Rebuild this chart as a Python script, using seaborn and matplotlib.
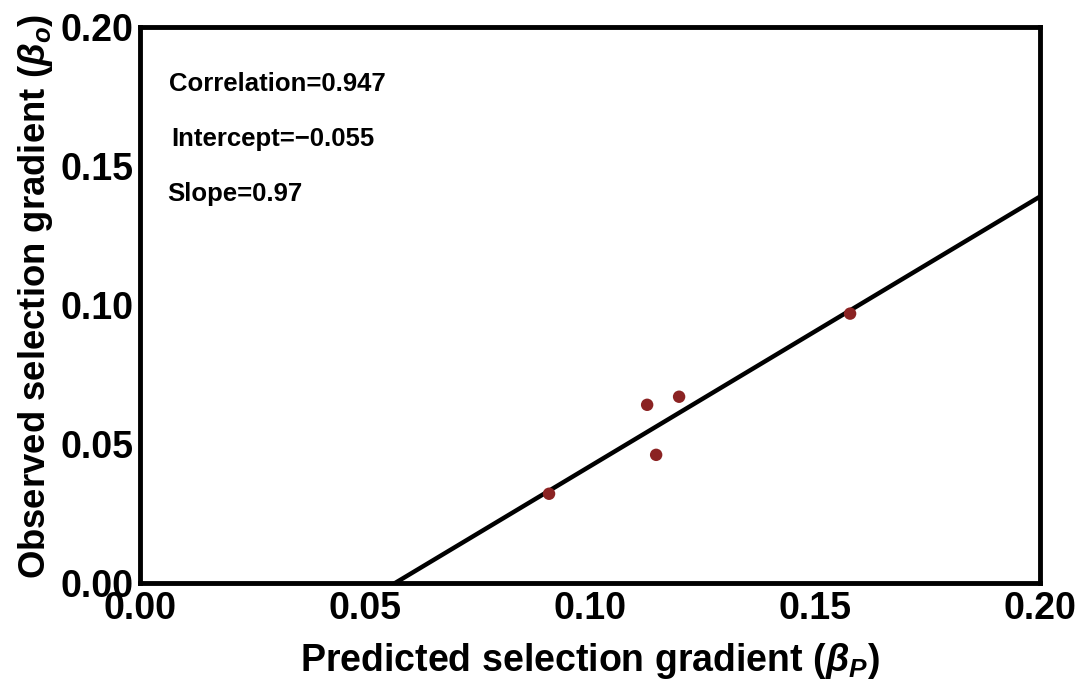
import matplotlib
matplotlib.use("Agg")
import matplotlib.pyplot as plt
import seaborn as sns
import numpy as np
import pandas as pd

predicted = [0.0909, 0.1127, 0.1147, 0.1198, 0.1578]
observed = [0.0321, 0.0641, 0.0461, 0.0670, 0.0969]
intercept = -0.055
slope = 0.97
correlation = 0.947
ticks = [0.00, 0.05, 0.10, 0.15, 0.20]

sns.set_theme(style="white")
plt.rcParams['font.family'] = ['Liberation Sans', 'DejaVu Sans']
plt.rcParams['mathtext.fontset'] = 'custom'
plt.rcParams['mathtext.bf'] = 'Liberation Sans:bold'
plt.rcParams['mathtext.bfit'] = 'Liberation Sans:bold:italic'
plt.rcParams['mathtext.it'] = 'Liberation Sans:italic'
for k in ['text.color', 'axes.labelcolor', 'xtick.color', 'ytick.color']:
    plt.rcParams[k] = 'black'

df = pd.DataFrame({"pred": predicted, "obs": observed})

fig = plt.figure(figsize=(10.91, 6.83), dpi=100)
ax = fig.add_axes([140/1091, 1-583/683, 900/1091, 556/683])

xl = np.array([0.0, 0.2])
sns.lineplot(x=xl, y=intercept + slope * xl, color="black", linewidth=3.2, ax=ax)
sns.scatterplot(data=df, x="pred", y="obs", color="#8b2323", s=80, edgecolor="none", ax=ax, zorder=3)

ax.set_xlim(0, 0.2)
ax.set_ylim(0, 0.2)
ax.set_xticks(ticks)
ax.set_yticks(ticks)
ax.set_xticklabels([f"{t:.2f}" for t in ticks], fontsize=27, fontweight="bold")
ax.set_yticklabels([f"{t:.2f}" for t in ticks], fontsize=27, fontweight="bold")
ax.tick_params(length=0, pad=6)
ax.tick_params(axis='y', pad=5)
for s in ax.spines.values():
    s.set_linewidth(3.5)
    s.set_color("black")
    s.set_visible(True)

ax.set_xlabel(r"Predicted selection gradient ($\mathbfit{\beta_P}$)", fontsize=27, fontweight="bold", labelpad=10)
ax.set_ylabel(r"Observed selection gradient ($\mathbfit{\beta_o}$)", fontsize=26.3, fontweight="bold")
ax.yaxis.set_label_coords(-0.094, 0.515)

ax.text(0.0065, 0.1795, f"Correlation={correlation}", fontsize=18.5, fontweight="bold", va="center")
ax.text(0.007, 0.1598, "Intercept=\u22120.055", fontsize=18.5, fontweight="bold", va="center")
ax.text(0.006, 0.1400, f"Slope={slope}", fontsize=18.5, fontweight="bold", va="center")

fig.savefig("out.png", dpi=100)
